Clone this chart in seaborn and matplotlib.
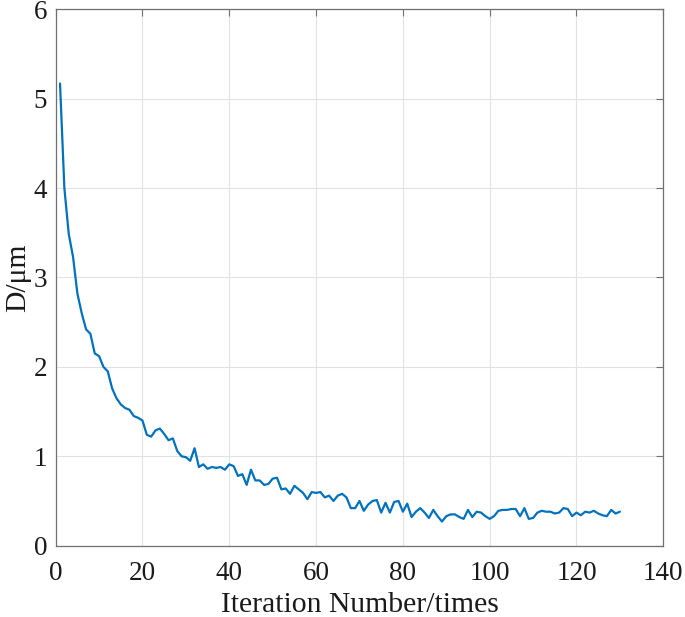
import numpy as np
import pandas as pd
import matplotlib
matplotlib.use("Agg")
import matplotlib.pyplot as plt
import seaborn as sns

iterations = list(range(1, 131))
diameter = [
    5.17, 4.00, 3.49, 3.23, 2.82, 2.60, 2.42, 2.37, 2.15, 2.12,
    2.00, 1.95, 1.76, 1.65, 1.58, 1.54, 1.52, 1.45, 1.43, 1.40,
    1.24, 1.22, 1.29, 1.31, 1.25, 1.18, 1.20, 1.06, 1.00, 0.99,
    0.95, 1.09, 0.88, 0.91, 0.86, 0.88, 0.87, 0.88, 0.85, 0.91,
    0.89, 0.78, 0.80, 0.68, 0.85, 0.73, 0.73, 0.68, 0.69, 0.75,
    0.76, 0.63, 0.64, 0.58, 0.67, 0.63, 0.59, 0.52, 0.60, 0.59,
    0.60, 0.54, 0.56, 0.50, 0.56, 0.58, 0.54, 0.42, 0.42, 0.50,
    0.39, 0.46, 0.50, 0.51, 0.37, 0.48, 0.37, 0.49, 0.50, 0.38,
    0.47, 0.32, 0.38, 0.42, 0.37, 0.31, 0.40, 0.33, 0.27, 0.33,
    0.35, 0.35, 0.32, 0.30, 0.40, 0.32, 0.38, 0.37, 0.33, 0.30,
    0.33, 0.39, 0.40, 0.40, 0.41, 0.41, 0.33, 0.42, 0.30, 0.31,
    0.37, 0.39, 0.38, 0.38, 0.36, 0.37, 0.42, 0.41, 0.33, 0.37,
    0.34, 0.38, 0.37, 0.39, 0.36, 0.34, 0.33, 0.40, 0.36, 0.38,
]
x_ticks = [0, 20, 40, 60, 80, 100, 120, 140]
y_ticks = [0, 1, 2, 3, 4, 5, 6]
x_label = "Iteration Number/times"
y_label = "D/μm"

sns.set_style("white")
plt.rcParams['font.family'] = ['Liberation Serif', 'DejaVu Serif']

df = pd.DataFrame({"iter": iterations, "D": diameter})

fig = plt.figure(figsize=(6.85, 6.17), dpi=100)
ax = fig.add_axes([0.0813, 0.1156, 0.887, 0.8693])

sns.lineplot(data=df, x="iter", y="D", ax=ax, color="#0072BD", linewidth=1.6)

ax.set_xlim(0, 140)
ax.set_ylim(0, 6)
ax.set_xticks(x_ticks)
ax.set_yticks(y_ticks)
ax.grid(True, color="#e2e2e2", linewidth=0.8)
ax.set_axisbelow(True)
for s in ax.spines.values():
    s.set_visible(True)
    s.set_color("#707070")
    s.set_linewidth(0.9)
ax.tick_params(axis="both", direction="in", length=5, width=0.8, color="#707070",
               labelsize=19.5, labelcolor="#1a1a1a", top=True, right=True)
ax.tick_params(axis="x", pad=11)
ax.tick_params(axis="y", pad=6)
ax.set_xlabel(x_label, fontsize=21.3, color="#1a1a1a", labelpad=4)
ax.set_ylabel(y_label, fontsize=21.3, color="#1a1a1a", labelpad=2)

fig.savefig("out.png", dpi=100)
